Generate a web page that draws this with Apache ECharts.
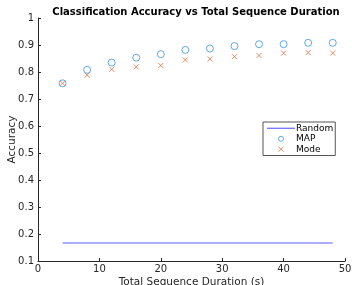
<!DOCTYPE html>
<html>
<head>
<meta charset="utf-8">
<script src="https://cdn.jsdelivr.net/npm/echarts@6/dist/echarts.min.js"></script>
<style>
  html, body { margin: 0; padding: 0; background: #fff; }
  #main { width: 352px; height: 285px; }
</style>
</head>
<body>
<div id="main"></div>
<script>
// durations (s)
const durations = [4, 8, 12, 16, 20, 24, 28, 32, 36, 40, 44, 48];
const mapAcc = [0.758, 0.808, 0.835, 0.853, 0.866, 0.882, 0.887, 0.896, 0.903, 0.903, 0.908, 0.908];
const modeAcc = [0.758, 0.788, 0.810, 0.819, 0.824, 0.845, 0.848, 0.857, 0.861, 0.870, 0.872, 0.870];
const randomAcc = [1 / 6, 1 / 6];
const randomX = [4, 48];

const crossIcon = "path://M0,0L10,10M10,0L0,10";
const lineIcon = "path://M0,0L30,0L30,1.2L0,1.2Z";
const axisColor = "#262626";
const mapColor = "#3a95d8";
const modeColor = "#e0703e";
const randomColor = "#5c5cff";

const myChart = echarts.init(document.getElementById("main"));
const option = {
  animation: false,
  title: {
    text: "Classification Accuracy vs Total Sequence Duration",
    left: 191,
    textAlign: "center",
    top: 2,
    textStyle: { fontFamily: "DejaVu Sans", fontSize: 10, fontWeight: "bold", color: "#000" },
  },
  grid: { left: 38, right: 7, top: 18, bottom: 24, containLabel: false, outerBoundsMode: "none" },
  xAxis: {
    type: "value",
    min: 0,
    max: 50,
    interval: 10,
    name: "Total Sequence Duration (s)",
    nameLocation: "middle",
    nameGap: 16,
    nameMoveOverlap: false,
    nameTextStyle: { fontFamily: "DejaVu Sans", fontSize: 10.5, color: axisColor },
    axisLine: { lineStyle: { color: axisColor, width: 1 } },
    axisTick: { inside: true, length: 3, lineStyle: { color: axisColor } },
    axisLabel: { fontFamily: "DejaVu Sans", fontSize: 10, color: axisColor, margin: 3 },
    splitLine: { show: false },
  },
  yAxis: {
    type: "value",
    min: 0.1,
    max: 1,
    interval: 0.1,
    name: "Accuracy",
    nameLocation: "middle",
    nameGap: 20,
    nameMoveOverlap: false,
    nameTextStyle: { fontFamily: "DejaVu Sans", fontSize: 10.5, color: axisColor },
    axisLine: { show: true, lineStyle: { color: axisColor, width: 1 } },
    axisTick: { show: true, inside: true, length: 3, lineStyle: { color: axisColor } },
    axisLabel: {
      fontFamily: "DejaVu Sans",
      fontSize: 10,
      color: axisColor,
      margin: 4,
      formatter: (v) => String(Math.round(v * 10) / 10),
    },
    splitLine: { show: false },
  },
  legend: {
    orient: "vertical",
    left: 263,
    top: 122,
    itemWidth: 28,
    itemHeight: 5,
    itemGap: 0,
    padding: [1, 2, 1, 4],
    borderColor: "#555",
    borderWidth: 1,
    textStyle: { fontFamily: "DejaVu Sans", fontSize: 9, lineHeight: 10.5, color: "#000", padding: [0, 0, 0, -4] },
    data: [
      { name: "Random", icon: lineIcon },
      { name: "MAP", icon: "circle", itemStyle: { borderWidth: 1 } },
      { name: "Mode", icon: crossIcon, itemStyle: { borderWidth: 1 } },
    ],
  },
  series: [
    {
      name: "Random",
      type: "line",
      data: randomX.map((x, i) => [x, randomAcc[i]]),
      showSymbol: false,
      symbol: "none",
      lineStyle: { color: randomColor, width: 1 },
      itemStyle: { color: randomColor },
    },
    {
      name: "MAP",
      type: "scatter",
      data: durations.map((x, i) => [x, mapAcc[i]]),
      symbol: "circle",
      symbolSize: 7,
      itemStyle: { color: "none", borderColor: mapColor, borderWidth: 1 },
    },
    {
      name: "Mode",
      type: "scatter",
      data: durations.map((x, i) => [x, modeAcc[i]]),
      symbol: crossIcon,
      symbolSize: 5,
      itemStyle: { color: "none", borderColor: modeColor, borderWidth: 1 },
    },
  ],
};
myChart.setOption(option);
</script>
</body>
</html>
